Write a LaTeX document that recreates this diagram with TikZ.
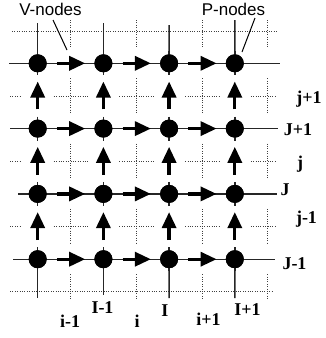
\documentclass[tikz,border=0pt]{standalone}
\usepackage{fontspec}
\setmainfont{Liberation Serif}
\newfontfamily\labsans{Liberation Sans}
\usetikzlibrary{arrows.meta}
\begin{document}
\begin{tikzpicture}[x=1pt,y=-1pt,
  pnode/.style={circle,fill=black,draw=none,minimum size=18pt,inner sep=0pt},
  gridline/.style={line width=0.9pt,black!75,dash pattern=on 1pt off 1.4pt},
  meshline/.style={line width=1.4pt,black!85},
  varrow/.style={line width=3.3pt,-{Triangle[length=16pt,width=14pt]},shorten <=10pt,shorten >=9pt},
  idx/.style={font=\fontsize{18}{18}\selectfont\bfseries,inner sep=0pt,anchor=base},
  nodetag/.style={font=\labsans\fontsize{17}{17}\selectfont,inner sep=0pt,anchor=base},
  leader/.style={line width=1pt,black}
]
\useasboundingbox (0,0) rectangle (325,338);

% dotted grid
\foreach \k in {0,...,3}{
  \pgfmathsetmacro\xx{70.8+65.7*\k}
  \foreach \a/\b in {20/48.3,78.3/113.6,143.6/178.9,208.9/244.2,274.2/300}{
    \draw[gridline] (\xx,\a) -- (\xx,\b);
  }
}
\foreach \yy in {96,161.3,226.6}{
  \foreach \a/\b in {10/21.7,53.7/87.4,119.4/153.1,185.1/218.8,250.8/275}{
    \draw[gridline] (\a,\yy) -- (\b,\yy);
  }
}
\draw[gridline] (12,31) -- (277,31);
\draw[gridline] (10,291.8) -- (272,291.8);

% coordinates for line ends
\coordinate (rl-1) at (9,63.3);   \coordinate (rr-1) at (280,63.3);
\coordinate (rl-2) at (10,128.6); \coordinate (rr-2) at (278,128.6);
\coordinate (rl-3) at (18,193.9); \coordinate (rr-3) at (277,193.9);
\coordinate (rl-4) at (13,259.2); \coordinate (rr-4) at (275,259.2);
\foreach \c/\xx/\t/\bb in {1/37.7/23/298,2/103.4/23/295,3/169.1/25/298,4/234.8/20/298}{
  \coordinate (ct-\c) at (\xx,\t);
  \coordinate (cb-\c) at (\xx,\bb);
}

% row lines
\foreach \r in {1,...,4}{
  \draw[meshline] (rl-\r) -- (rr-\r);
}

% P-nodes
\foreach \r in {1,...,4}{
  \foreach \c in {1,...,4}{
    \pgfmathsetmacro\xx{37.7+65.7*(\c-1)}
    \pgfmathsetmacro\yy{63.3+65.3*(\r-1)}
    \node[pnode] (p-\r-\c) at (\xx,\yy) {};
  }
}

% vertical stubs and column ends
\foreach \r in {1,...,4}{
  \foreach \c in {1,...,4}{
    \draw[meshline] ([yshift=12pt]p-\r-\c.center) -- ([yshift=-12pt]p-\r-\c.center);
  }
}
\foreach \c in {1,...,4}{
  \draw[meshline] (p-1-\c.center) -- (ct-\c);
  \draw[meshline] (p-4-\c.center) -- (cb-\c);
}
\foreach \r in {1,...,4}{
  \foreach \c in {1,...,4}{
    \node[pnode] at (p-\r-\c) {};
  }
}

% horizontal velocity arrows
\foreach \r in {1,...,4}{
  \foreach \c/\d in {1/2,2/3,3/4}{
    \draw[varrow] (p-\r-\c) -- (p-\r-\d);
  }
}
% vertical velocity arrows
\foreach \r/\s in {2/1,3/2,4/3}{
  \foreach \c in {1,...,4}{
    \draw[varrow] (p-\r-\c) -- (p-\s-\c);
  }
}

% top labels
\node[nodetag] (vlab) at (50.5,15) {V-nodes};
\node[nodetag] (plab) at (233.5,15) {P-nodes};
\coordinate (v0) at (53,20);  \coordinate (v1) at (67,50);
\coordinate (q0) at (255,18); \coordinate (q1) at (242,52);
\draw[leader] (v0) -- (v1);
\draw[leader] (q0) -- (q1);

% right labels
\node[idx] (jp) at (309,103) {j+1};
\node[idx] (Jp) at (298,135) {J+1};
\node[idx] (j0) at (300,168) {j};
\node[idx] (J0) at (285,195) {J};
\node[idx] (jm) at (306.5,223) {j-1};
\node[idx] (Jm) at (294.5,269) {J-1};

% bottom labels
\node[idx] (im) at (70,327) {i-1};
\node[idx] (Im) at (102.5,313) {I-1};
\node[idx] (i0) at (137,327) {i};
\node[idx] (I0) at (165,316) {I};
\node[idx] (ip) at (208.5,325) {i+1};
\node[idx] (Ip) at (247.5,315) {I+1};
\end{tikzpicture}
\end{document}
